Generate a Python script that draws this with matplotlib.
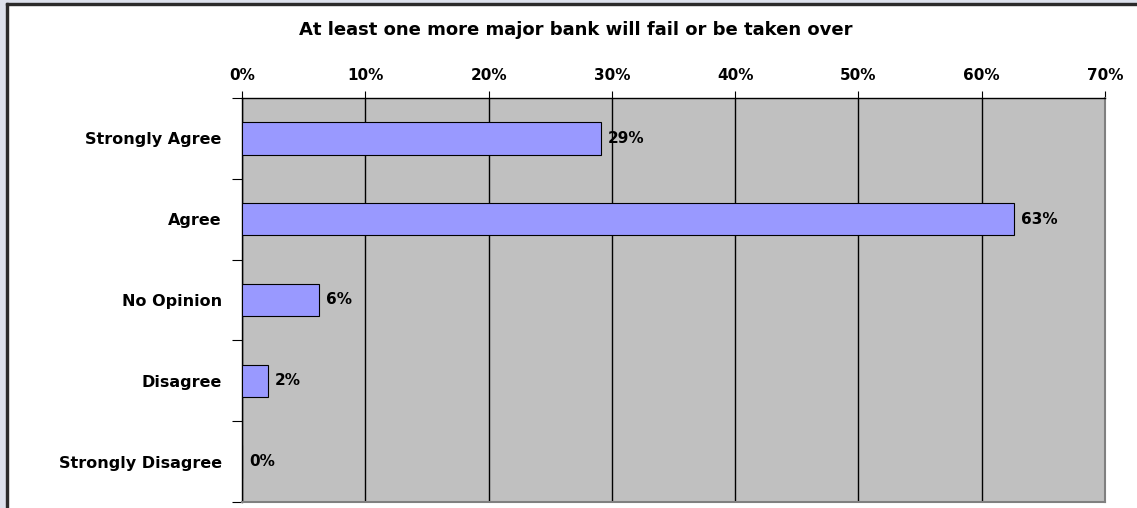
import matplotlib
matplotlib.use("Agg")
import matplotlib.pyplot as plt
from matplotlib.patches import Rectangle
from matplotlib.ticker import MultipleLocator, FuncFormatter

categories = ["Strongly Agree", "Agree", "No Opinion", "Disagree", "Strongly Disagree"]
values = [29.1, 62.6, 6.25, 2.1, 0.0]
title = "At least one more major bank will fail or be taken over"

plt.rcParams["font.family"] = ["DejaVu Sans"]
plt.rcParams["font.weight"] = "bold"

fig = plt.figure(figsize=(11.37, 5.08), dpi=100)
W, H = 1137, 508

# outer frame: light strip with a dark edge along top and left
fig.patches.append(Rectangle((0, 1 - 3 / H), 1, 3 / H, transform=fig.transFigure,
                             color="#dde1ec", zorder=0))
fig.patches.append(Rectangle((0, 0), 6 / W, 1, transform=fig.transFigure,
                             color="#dde1ec", zorder=0))
fig.patches.append(Rectangle((6 / W, 1 - 5 / H), 1 - 6 / W, 2 / H, transform=fig.transFigure,
                             color="#2b2b2b", zorder=1))
fig.patches.append(Rectangle((6 / W, 0), 2 / W, 1 - 3 / H, transform=fig.transFigure,
                             color="#2b2b2b", zorder=1))

left, right, top, bottom = 242 / W, 1105 / W, 1 - 98 / H, 1 - 502 / H
ax = fig.add_axes([left, bottom, right - left, top - bottom])
ax.set_facecolor("#c0c0c0")

y = list(range(len(categories)))
ax.barh(y, values, height=0.4, color="#9999ff", edgecolor="black", linewidth=0.8, zorder=3)
for yi, v in zip(y, values):
    ax.text(v + 0.55, yi, f"{v:.0f}%", va="center", ha="left", fontsize=11,
            fontweight="bold", zorder=4)

ax.set_xlim(0, 70)
ax.set_ylim(len(categories) - 0.5, -0.5)
ax.xaxis.set_major_locator(MultipleLocator(10))
ax.xaxis.set_major_formatter(FuncFormatter(lambda x, p: f"{x:.0f}%"))
ax.xaxis.tick_top()
ax.grid(axis="x", color="black", linewidth=1.0, zorder=1)

ax.set_yticks([i - 0.5 for i in range(len(categories) + 1)], minor=False)
ax.set_yticklabels([""] * (len(categories) + 1))
ax.set_yticks(y, minor=True)
ax.set_yticklabels(categories, minor=True)
ax.tick_params(axis="y", which="major", length=7, width=0.8, direction="out")
ax.tick_params(axis="y", which="minor", length=0, pad=14.5, labelsize=11.5)
ax.tick_params(axis="x", which="major", length=5, width=0.8, direction="out",
               pad=6, labelsize=11)

for s in ("left", "top"):
    ax.spines[s].set_color("black")
    ax.spines[s].set_linewidth(1.0)
for s in ("right", "bottom"):
    ax.spines[s].set_color("#808080")
    ax.spines[s].set_linewidth(1.5)

fig.text(576 / W, 1 - 30 / H, title, ha="center", va="center",
         fontsize=13, fontweight="bold")

fig.savefig("out.png", dpi=100)
